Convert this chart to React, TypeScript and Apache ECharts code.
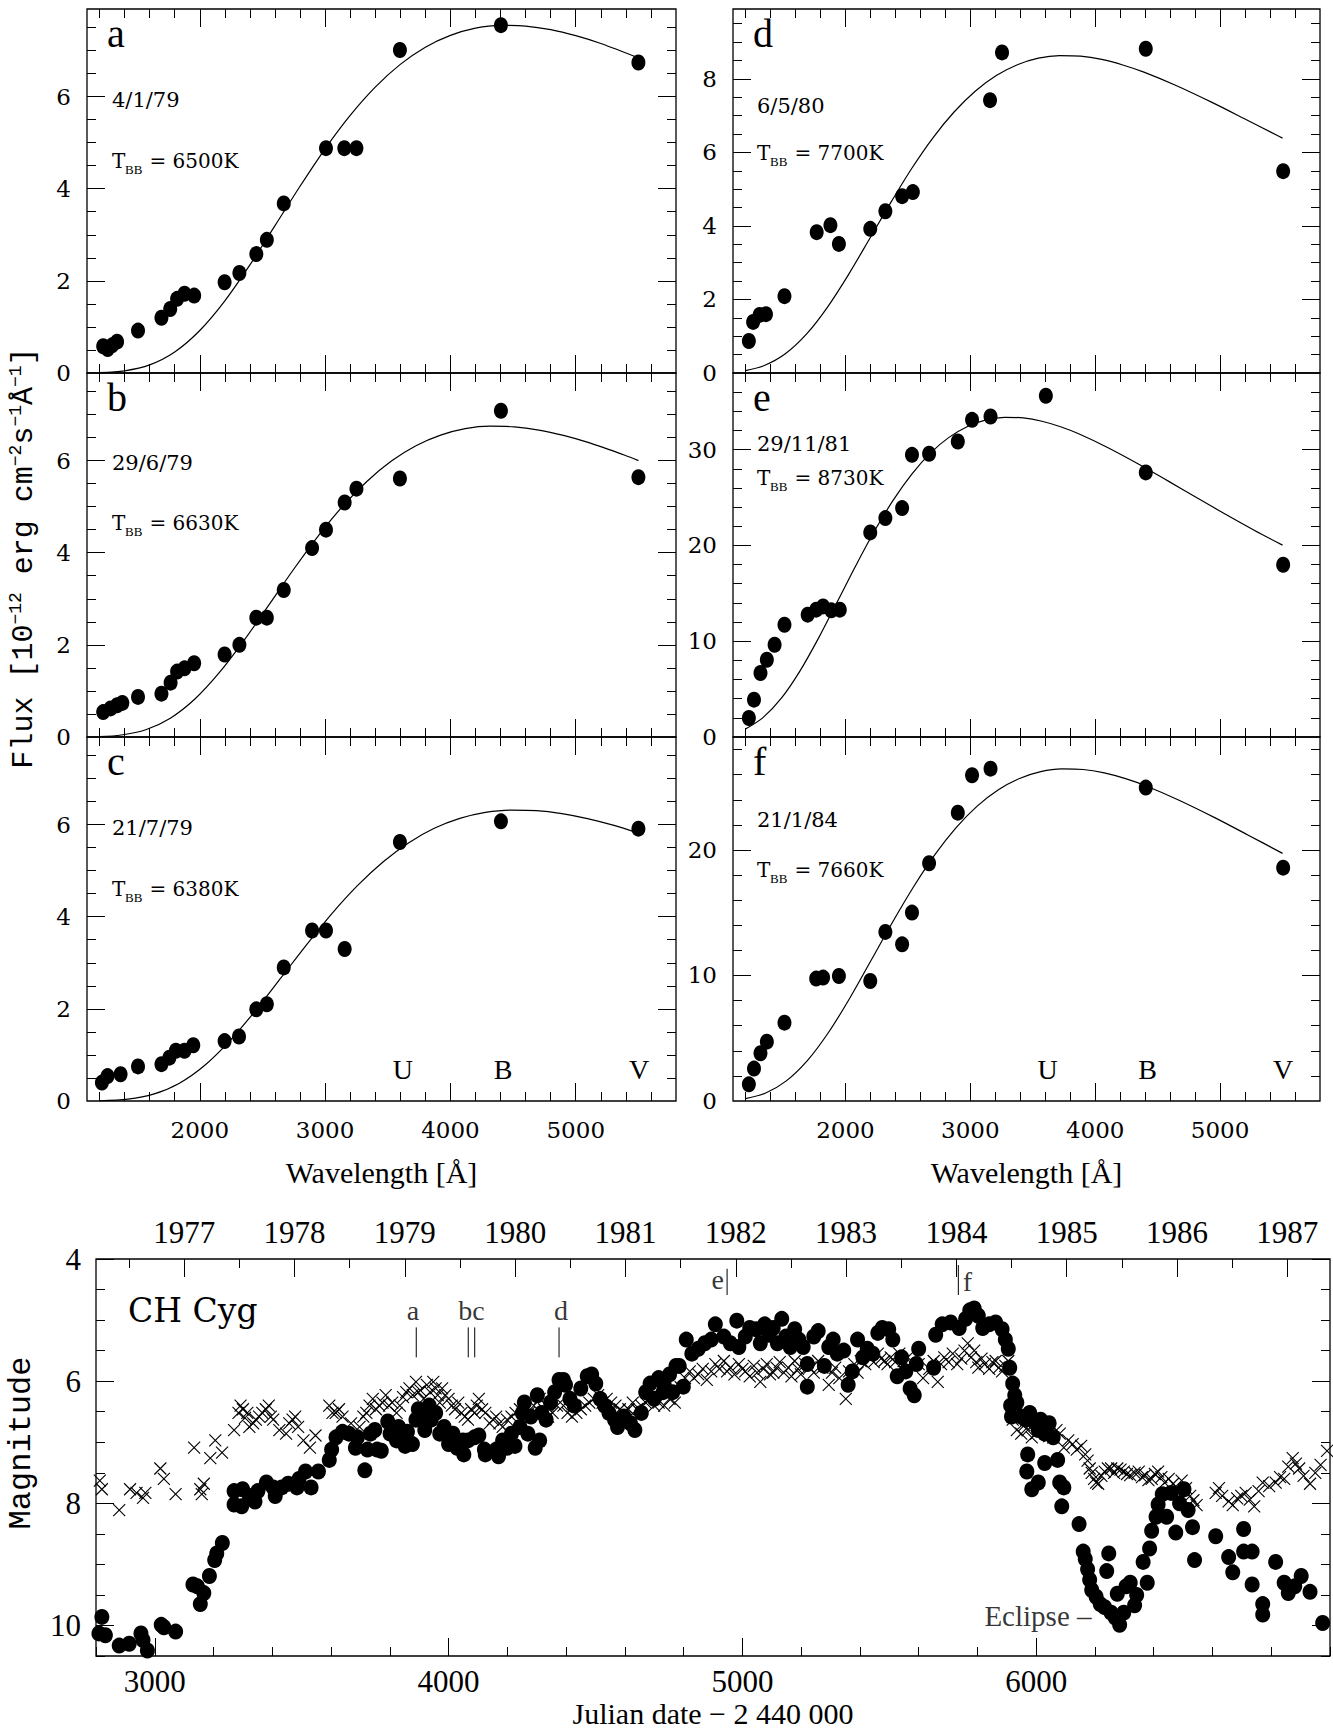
import React, { useEffect, useRef } from 'react';
import * as echarts from 'echarts';

const W = 1333;
const H = 1735;

// ---------------- Spectra: wavelength [Å] and flux [1e-12 erg cm^-2 s^-1 Å^-1] ----------------
const A_WAVE = [1229, 1265, 1300, 1340, 1507, 1694, 1764, 1819, 1878, 1955, 2198, 2316, 2451, 2535, 2670, 3007, 3153, 3250, 3597, 4403, 5500];
const A_FLUX = [0.58, 0.52, 0.6, 0.68, 0.92, 1.2, 1.39, 1.61, 1.72, 1.68, 1.97, 2.17, 2.58, 2.89, 3.68, 4.88, 4.88, 4.88, 7.01, 7.55, 6.74];
const B_WAVE = [1229, 1288, 1340, 1382, 1507, 1694, 1767, 1819, 1878, 1955, 2198, 2316, 2451, 2535, 2670, 2896, 3007, 3156, 3250, 3597, 4403, 5500];
const B_FLUX = [0.54, 0.62, 0.69, 0.74, 0.87, 0.94, 1.18, 1.42, 1.49, 1.6, 1.79, 2.0, 2.59, 2.59, 3.19, 4.1, 4.5, 5.09, 5.39, 5.61, 7.08, 5.64];
const C_WAVE = [1219, 1264, 1368, 1507, 1694, 1757, 1809, 1878, 1948, 2198, 2313, 2451, 2535, 2670, 2896, 3007, 3156, 3597, 4403, 5500];
const C_FLUX = [0.4, 0.54, 0.58, 0.75, 0.8, 0.94, 1.09, 1.09, 1.21, 1.3, 1.4, 1.99, 2.1, 2.9, 3.7, 3.7, 3.3, 5.62, 6.07, 5.91];
const D_WAVE = [1227, 1261, 1313, 1364, 1512, 1770, 1880, 1948, 2199, 2320, 2454, 2540, 3158, 3254, 4405, 5505];
const D_FLUX = [0.87, 1.39, 1.58, 1.6, 2.09, 3.83, 4.02, 3.51, 3.92, 4.4, 4.81, 4.92, 7.42, 8.72, 8.82, 5.49];
const E_WAVE = [1227, 1268, 1320, 1371, 1433, 1512, 1698, 1766, 1821, 1887, 1955, 2199, 2320, 2454, 2533, 2670, 2900, 3014, 3162, 3605, 4405, 5505];
const E_FLUX = [1.98, 3.9, 6.68, 8.07, 9.63, 11.72, 12.77, 13.29, 13.63, 13.22, 13.29, 21.36, 22.85, 23.9, 29.46, 29.57, 30.85, 33.11, 33.46, 35.62, 27.62, 17.98];
const F_WAVE = [1227, 1268, 1320, 1371, 1512, 1766, 1821, 1948, 2199, 2320, 2454, 2533, 2670, 2900, 3014, 3162, 4405, 5505];
const F_FLUX = [1.33, 2.58, 3.8, 4.73, 6.24, 9.75, 9.83, 9.96, 9.56, 13.47, 12.48, 15.01, 18.94, 22.97, 25.95, 26.48, 24.97, 18.59];

// Black-body curves
const A_BB_WAVE = [1200, 1400, 1600, 1800, 2000, 2200, 2400, 2600, 2800, 3000, 3200, 3400, 3600, 3800, 4000, 4200, 4400, 4600, 4800, 5000, 5200, 5500];
const A_BB_FLUX = [0.007, 0.048, 0.177, 0.457, 0.923, 1.567, 2.346, 3.197, 4.054, 4.866, 5.59, 6.204, 6.698, 7.071, 7.327, 7.484, 7.544, 7.53, 7.452, 7.321, 7.151, 6.839];
const B_BB_WAVE = [1200, 1373, 1569, 1765, 1961, 2157, 2353, 2549, 2745, 2941, 3137, 3333, 3529, 3725, 3922, 4118, 4314, 4510, 4706, 4902, 5098, 5392, 5500];
const B_BB_FLUX = [0.008, 0.043, 0.158, 0.409, 0.825, 1.401, 2.097, 2.858, 3.625, 4.35, 4.998, 5.546, 5.989, 6.321, 6.551, 6.691, 6.745, 6.732, 6.662, 6.545, 6.393, 6.114, 5.999];
const C_BB_WAVE = [1200, 1426, 1630, 1834, 2038, 2241, 2445, 2649, 2853, 3056, 3260, 3464, 3668, 3871, 4075, 4279, 4483, 4687, 4890, 5094, 5298, 5500];
const C_BB_FLUX = [0.005, 0.04, 0.148, 0.382, 0.772, 1.312, 1.964, 2.676, 3.394, 4.073, 4.679, 5.193, 5.607, 5.919, 6.134, 6.264, 6.315, 6.304, 6.238, 6.129, 5.986, 5.813];
const D_BB_WAVE = [1200, 1351, 1519, 1688, 1857, 2026, 2195, 2364, 2532, 2701, 2870, 3039, 3208, 3377, 3545, 3714, 3883, 4052, 4221, 4390, 4643, 4935, 5195, 5455, 5500];
const D_BB_FLUX = [0.063, 0.203, 0.523, 1.056, 1.794, 2.684, 3.658, 4.64, 5.568, 6.397, 7.099, 7.665, 8.091, 8.385, 8.564, 8.633, 8.617, 8.528, 8.378, 8.183, 7.826, 7.36, 6.916, 6.465, 6.388];
const E_BB_WAVE = [1200, 1340, 1489, 1638, 1787, 1936, 2085, 2234, 2383, 2532, 2680, 2829, 2978, 3127, 3276, 3425, 3574, 3723, 3872, 4095, 4353, 4582, 4811, 5040, 5269, 5500];
const E_BB_FLUX = [0.828, 2.021, 4.081, 6.934, 10.377, 14.142, 17.936, 21.526, 24.729, 27.445, 29.632, 31.279, 32.415, 33.106, 33.373, 33.313, 32.966, 32.388, 31.633, 30.254, 28.453, 26.737, 24.993, 23.276, 21.613, 20.03];
const F_BB_WAVE = [1200, 1358, 1527, 1697, 1867, 2037, 2206, 2376, 2546, 2715, 2885, 3055, 3225, 3394, 3564, 3734, 3903, 4073, 4243, 4413, 4667, 4961, 5222, 5500];
const F_BB_FLUX = [0.184, 0.621, 1.603, 3.236, 5.497, 8.227, 11.212, 14.22, 17.066, 19.606, 21.759, 23.493, 24.799, 25.699, 26.247, 26.459, 26.411, 26.136, 25.678, 25.079, 23.986, 22.558, 21.197, 19.73];

const PANEL_DATES = ['4/1/79', '29/6/79', '21/7/79', '6/5/80', '29/11/81', '21/1/84'];
const PANEL_TEMPS = ['6500K', '6630K', '6380K', '7700K', '8730K', '7660K'];
const PANEL_LETTERS = ['a', 'b', 'c', 'd', 'e', 'f'];
const BAND_NAMES = ['U', 'B', 'V'];
const BAND_WAVE = [3620, 4420, 5505];

// ---------------- Light curve: JD - 2440000, magnitude ----------------
const LC_DOTS: number[][] = [
  [2810, 10.13], [2820, 9.86], [2832, 10.16], [2879, 10.33], [2913, 10.3], [2953, 10.13], [2960, 10.24], [2975, 10.41], [3022, 9.99], [3031, 10.03], [3071, 10.1],
  [3130, 9.33], [3145, 9.36], [3155, 9.65], [3167, 9.47], [3186, 9.19], [3204, 8.93], [3211, 8.82], [3230, 8.65],
  [3270, 8.02], [3270, 7.8], [3296, 8.05], [3299, 7.77], [3322, 7.88], [3341, 7.97], [3351, 7.8], [3380, 7.66], [3403, 7.74], [3410, 7.88], [3432, 7.74], [3454, 7.68], [3484, 7.74], [3491, 7.6], [3513, 7.48], [3532, 7.74], [3557, 7.48],
  [3594, 7.29], [3602, 7.12], [3617, 6.92], [3639, 6.83], [3661, 6.86], [3683, 7.09], [3690, 6.92], [3715, 7.46], [3724, 7.12], [3734, 6.86], [3749, 6.8], [3757, 7.12], [3771, 7.14], [3793, 6.66], [3801, 6.86], [3823, 6.97], [3830, 6.75], [3852, 7.06], [3860, 6.83], [3877, 7.03],
  [3889, 6.63], [3897, 6.46], [3911, 6.58], [3919, 6.8], [3934, 6.4], [3941, 6.63], [3956, 6.52], [3970, 6.86], [3985, 6.75], [4000, 7.03], [4015, 6.86], [4029, 7.09], [4049, 6.97], [4052, 7.2], [4066, 6.97], [4088, 6.92], [4103, 6.89], [4122, 7.12], [4125, 7.2], [4162, 7.12], [4170, 7.23], [4184, 6.97], [4199, 7.09], [4214, 6.86], [4226, 7.06], [4243, 6.75], [4251, 6.52], [4258, 6.35], [4270, 6.86], [4280, 6.58], [4295, 7.09], [4302, 6.23], [4310, 6.97], [4317, 6.52], [4332, 6.63], [4347, 6.35], [4361, 6.18], [4376, 5.98], [4391, 5.98], [4398, 6.06], [4413, 6.29], [4428, 6.4], [4450, 6.12], [4472, 5.92], [4487, 5.89], [4501, 6.04], [4516, 6.29], [4531, 6.4], [4546, 6.52], [4565, 6.63], [4575, 6.75], [4597, 6.58], [4619, 6.69], [4634, 6.8], [4656, 6.52], [4671, 6.18], [4686, 6.04], [4700, 6.29], [4715, 5.95], [4730, 6.18], [4752, 5.89], [4774, 5.75],
  [4734, 6.06], [4763, 6.18], [4799, 6.09], [4785, 5.75], [4809, 5.32], [4828, 5.55], [4850, 5.47], [4872, 5.38], [4894, 5.32], [4908, 5.07], [4937, 5.27], [4959, 5.38], [4981, 5.01], [4988, 5.44], [5010, 5.27], [5025, 5.13], [5047, 5.15], [5061, 5.38], [5076, 5.07], [5090, 5.24], [5105, 5.13], [5119, 5.38], [5134, 4.98], [5148, 5.27], [5163, 5.44], [5178, 5.15], [5192, 5.32], [5207, 5.44], [5221, 5.72], [5221, 6.09], [5243, 5.27], [5258, 5.18], [5279, 5.75], [5294, 5.44], [5309, 5.32], [5323, 5.55], [5345, 5.5], [5360, 6.06], [5374, 5.84], [5392, 5.32], [5410, 5.61], [5425, 5.47], [5444, 5.55], [5461, 5.21], [5476, 5.13], [5498, 5.15], [5512, 5.32], [5527, 5.92], [5542, 5.61], [5556, 5.84], [5571, 6.12], [5585, 6.23], [5592, 5.72], [5600, 5.47],
  [5651, 5.78], [5658, 5.24], [5680, 5.07], [5709, 5.04], [5738, 5.13], [5760, 4.98], [5774, 4.84], [5789, 4.81], [5803, 4.93], [5818, 5.13], [5840, 5.07], [5862, 5.04], [5884, 5.15], [5895, 5.32], [5905, 5.47], [5910, 5.78], [5920, 6.04], [5927, 6.23], [5913, 6.4], [5916, 6.58], [5934, 6.35], [5949, 6.58], [5964, 6.63], [5978, 6.52], [5993, 6.66], [6007, 6.8], [6015, 6.63], [6029, 6.86], [6044, 6.69], [6058, 6.92],
  [5971, 7.2], [5968, 7.48], [5985, 7.77], [6007, 7.66], [6029, 7.34], [6073, 7.29], [6080, 7.66], [6094, 7.74], [6087, 8.05], [6146, 8.34], [6160, 8.79], [6167, 8.91], [6175, 9.08], [6182, 9.25], [6189, 9.42], [6204, 9.53], [6218, 9.65], [6233, 9.7], [6240, 9.11], [6247, 8.82], [6255, 9.79], [6269, 9.87], [6284, 9.99], [6276, 9.48], [6298, 9.79], [6306, 9.36], [6320, 9.3], [6335, 9.67], [6342, 9.5], [6364, 8.96], [6378, 9.3], [6386, 8.74], [6393, 8.45], [6408, 8.22], [6415, 8.02], [6429, 7.85], [6444, 8.22], [6459, 7.83], [6475, 8.48], [6488, 8.0], [6503, 7.77], [6517, 8.11], [6532, 8.39], [6539, 8.93],
  [6611, 8.54], [6655, 8.88], [6669, 9.13], [6706, 8.42], [6706, 8.79], [6735, 8.79], [6735, 9.33], [6771, 9.65], [6771, 9.82], [6815, 8.96], [6844, 9.3], [6858, 9.47], [6880, 9.36], [6902, 9.19], [6932, 9.45], [6975, 9.96],
];

const LC_CROSSES: number[][] = [
  [2813, 7.63], [2820, 7.77], [2879, 8.11], [2916, 7.77], [2938, 7.83], [2960, 7.91], [2968, 7.83], [3019, 7.43], [3031, 7.6], [3071, 7.85], [3134, 7.09], [3155, 7.77], [3160, 7.85], [3167, 7.68], [3189, 7.26], [3206, 6.97], [3229, 7.17],
  [3270, 6.8], [3285, 6.52], [3292, 6.4], [3300, 6.46], [3307, 6.6], [3315, 6.52], [3322, 6.75], [3335, 6.69], [3344, 6.63], [3355, 6.58], [3366, 6.52], [3378, 6.46], [3388, 6.4], [3395, 6.58], [3403, 6.63], [3424, 6.8], [3447, 6.86], [3458, 6.69], [3469, 6.63], [3478, 6.58], [3488, 6.75], [3506, 6.97], [3528, 7.09], [3547, 6.89],
  [3594, 6.4], [3605, 6.52], [3616, 6.52], [3627, 6.46], [3639, 6.58], [3668, 6.69], [3697, 6.75], [3710, 6.58], [3720, 6.52], [3731, 6.4], [3742, 6.29], [3753, 6.46], [3764, 6.4], [3775, 6.35], [3786, 6.23], [3797, 6.4], [3808, 6.35], [3823, 6.52], [3834, 6.4], [3845, 6.26], [3856, 6.18], [3867, 6.12], [3878, 6.23], [3889, 6.01], [3897, 6.18], [3904, 6.15], [3915, 6.29], [3926, 6.06], [3937, 6.18], [3948, 6.01], [3956, 6.12], [3963, 6.23], [3970, 6.35], [3978, 6.12], [3989, 6.23],
  [4000, 6.29], [4011, 6.4], [4022, 6.46], [4033, 6.35], [4044, 6.52], [4055, 6.58], [4066, 6.63], [4077, 6.46], [4088, 6.52], [4096, 6.4], [4103, 6.29], [4114, 6.46], [4125, 6.52], [4140, 6.69], [4151, 6.63], [4162, 6.58], [4173, 6.69], [4184, 6.75], [4199, 6.63], [4214, 6.58], [4228, 6.52], [4243, 6.46], [4258, 6.58], [4273, 6.52], [4290, 6.4], [4310, 6.29], [4325, 6.46], [4339, 6.58], [4354, 6.52], [4369, 6.4], [4391, 6.4], [4405, 6.52], [4420, 6.58], [4435, 6.52], [4450, 6.46], [4465, 6.4], [4479, 6.35], [4494, 6.29], [4509, 6.23], [4524, 6.35], [4538, 6.29], [4553, 6.35], [4568, 6.4], [4583, 6.46], [4597, 6.52], [4612, 6.46], [4627, 6.35], [4641, 6.46], [4656, 6.4], [4671, 6.35], [4686, 6.29], [4700, 6.4], [4715, 6.35], [4734, 6.4], [4752, 6.29], [4770, 6.35],
  [4790, 6.1], [4805, 5.95], [4821, 5.84], [4835, 5.95], [4850, 5.89], [4865, 5.8], [4879, 5.98], [4894, 5.84], [4908, 5.72], [4922, 5.8], [4937, 5.67], [4948, 5.84], [4959, 5.78], [4973, 5.89], [4988, 5.72], [5000, 5.8], [5010, 5.84], [5025, 5.92], [5039, 5.75], [5050, 5.86], [5061, 6.01], [5072, 5.8], [5083, 5.72], [5094, 5.89], [5105, 5.86], [5116, 5.78], [5127, 5.69], [5141, 5.86], [5156, 5.78], [5167, 5.92], [5178, 5.67], [5189, 5.8], [5199, 5.89], [5214, 5.72], [5229, 5.78], [5243, 5.86], [5258, 5.67], [5272, 5.78], [5294, 6.06], [5305, 5.86], [5316, 5.78], [5330, 5.95], [5352, 6.29], [5363, 5.84], [5381, 5.72], [5392, 5.86], [5403, 5.67], [5418, 5.72], [5432, 5.61], [5447, 5.69], [5461, 5.55], [5472, 5.63], [5483, 5.67], [5494, 5.72], [5505, 5.61], [5520, 5.69], [5534, 5.55], [5549, 5.67], [5563, 5.61], [5578, 5.72], [5600, 5.72], [5615, 5.95], [5636, 5.8], [5651, 5.67], [5665, 6.01], [5676, 5.72], [5687, 5.61], [5702, 5.69], [5716, 5.55], [5731, 5.72], [5745, 5.63], [5756, 5.5], [5767, 5.38], [5778, 5.61], [5789, 5.5], [5796, 5.69], [5803, 5.78], [5814, 5.63], [5825, 5.72], [5840, 5.8], [5851, 5.69], [5862, 5.67], [5873, 5.78], [5884, 5.84], [5895, 5.75], [5905, 5.67],
  [5920, 6.63], [5934, 6.8], [5949, 6.86], [5960, 6.72], [5971, 6.8], [5985, 6.92], [6000, 6.86], [6015, 6.75], [6029, 6.8], [6044, 6.9], [6058, 6.92], [6069, 6.8], [6080, 6.86], [6094, 7.09], [6109, 6.97], [6124, 7.03], [6138, 7.12], [6153, 7.06], [6167, 7.2], [6175, 7.3], [6182, 7.43], [6189, 7.5], [6197, 7.6], [6204, 7.66], [6211, 7.68], [6222, 7.55], [6233, 7.48], [6244, 7.43], [6255, 7.43], [6265, 7.5], [6276, 7.43], [6287, 7.45], [6298, 7.48], [6309, 7.52], [6320, 7.54], [6335, 7.5], [6349, 7.48], [6360, 7.57], [6371, 7.54], [6382, 7.62], [6393, 7.6], [6404, 7.52], [6415, 7.48], [6426, 7.57], [6437, 7.66], [6451, 7.6], [6466, 7.68], [6480, 7.75], [6495, 7.63], [6510, 7.75], [6524, 7.88], [6535, 7.95], [6546, 8.03],
  [6611, 7.83], [6622, 7.75], [6633, 7.88], [6655, 7.97], [6669, 8.03], [6684, 7.92], [6698, 7.88], [6713, 7.83], [6727, 7.94], [6742, 8.05], [6757, 7.8], [6771, 7.66], [6793, 7.72], [6815, 7.66], [6830, 7.57], [6844, 7.6], [6858, 7.4], [6873, 7.26], [6884, 7.35], [6895, 7.43], [6910, 7.55], [6932, 7.68], [6950, 7.5], [6968, 7.37], [6990, 7.14],
];

// Epoch markers of the spectra (JD - 2440000, magnitude span of the tick)
const EPOCH_LINE_JD = [3890, 4067, 4089, 4376, 4948, 5735];
const EPOCH_LINE_TOP = [5.12, 5.12, 5.12, 5.12, 4.16, 4.1];
const EPOCH_LINE_BOTTOM = [5.61, 5.61, 5.61, 5.61, 4.59, 4.59];
const EPOCH_LABELS = ['a', 'bc', 'd', 'e', 'f'];
const EPOCH_LABEL_JD = [3879, 4078, 4383, 4916, 5766];
const EPOCH_LABEL_MAG = [4.84, 4.84, 4.84, 4.33, 4.37];
const ECLIPSE_JD = 6190;
const ECLIPSE_MAG = 9.85;

// Tick values
const range = (a: number, b: number, s: number) => {
  const out: number[] = [];
  for (let v = a; v <= b + 1e-9; v += s) out.push(Math.round(v * 1000) / 1000);
  return out;
};
const WAVE_MIN = 1100;
const WAVE_MAX = 5800;
const WAVE_LABELS = [2000, 3000, 4000, 5000];
const WAVE_MINOR = range(1200, 5600, 200);
const JD_MIN = 2800;
const JD_MAX = 7000;
const JD_LABELS = [3000, 4000, 5000, 6000];
const JD_MINOR = range(2800, 7000, 200);
const YEAR_MIN = 1976.2;
const YEAR_MAX = 1987.387;
const YEAR_LABELS = [1977, 1978, 1979, 1980, 1981, 1982, 1983, 1984, 1985, 1986, 1987];
const YEAR_MINOR = range(1976.5, 1987, 0.5);
const MAG_MIN = 4;
const MAG_MAX = 10.5;
const MAG_LABELS = [4, 6, 8, 10];
const MAG_MINOR = range(4.5, 10.5, 0.5);

const zip = (a: number[], b: number[]) => a.map((v, i) => [v, b[i]]);

const F_NUM = '"DejaVu Serif", serif';
const F_SERIF = '"Liberation Serif", serif';
const F_MONO = '"Liberation Mono", monospace';

// Layout (pixels)
const COL_X = [87, 733];
const COL_W = [589, 587];
const ROW_Y = [9, 373, 737];
const ROW_H = 364;
const MAIN = { left: 96, top: 1259, width: 1234, height: 397 };
const MAJOR_LEN = 18;
const MINOR_LEN = 9;

function buildOption() {
  const grid: any[] = [];
  const xAxis: any[] = [];
  const yAxis: any[] = [];
  const series: any[] = [];
  const graphic: any[] = [];

  const mkAxis = (gridIndex: number, min: number, max: number, position: string, ticks: number[], len: number, label?: any, inverse?: boolean) => ({
    type: 'value',
    gridIndex,
    min,
    max,
    position,
    inverse: !!inverse,
    axisLine: { show: false, onZero: false },
    splitLine: { show: false },
    splitArea: { show: false },
    axisTick: { show: true, inside: true, length: len, customValues: ticks, lineStyle: { color: '#000', width: 1 } },
    axisLabel: label
      ? { show: true, customValues: label.values, formatter: (v: number) => String(v), color: '#000', fontFamily: label.font, fontSize: label.size, margin: label.margin }
      : { show: false },
    axisPointer: { show: false },
  });

  const addGrid = (rect: any) => {
    grid.push({ ...rect, show: true, borderColor: '#000', borderWidth: 1.3, backgroundColor: 'rgba(0,0,0,0)', containLabel: false });
    return grid.length - 1;
  };

  const text = (x: number, y: number, t: string, font: string, size: number, align = 'left', extra: any = {}) => ({
    type: 'text',
    x,
    y,
    silent: true,
    z: 50,
    ...extra,
    style: { text: t, fontFamily: font, fontSize: size, fill: '#000', align, verticalAlign: 'middle', ...(extra.style || {}) },
  });

  const panels = [
    { col: 0, row: 0, ymax: 7.9, yMaj: [2, 4, 6], yLab: [0, 2, 4, 6], yMin: range(0.5, 7.5, 0.5), w: A_WAVE, f: A_FLUX, bw: A_BB_WAVE, bf: A_BB_FLUX, dateDy: 91, tDy: 151.5, xlab: false },
    { col: 0, row: 1, ymax: 7.9, yMaj: [2, 4, 6], yLab: [0, 2, 4, 6], yMin: range(0.5, 7.5, 0.5), w: B_WAVE, f: B_FLUX, bw: B_BB_WAVE, bf: B_BB_FLUX, dateDy: 89.5, tDy: 149.5, xlab: false },
    { col: 0, row: 2, ymax: 7.9, yMaj: [2, 4, 6], yLab: [0, 2, 4, 6], yMin: range(0.5, 7.5, 0.5), w: C_WAVE, f: C_FLUX, bw: C_BB_WAVE, bf: C_BB_FLUX, dateDy: 90.5, tDy: 151.5, xlab: true },
    { col: 1, row: 0, ymax: 9.9, yMaj: [2, 4, 6, 8], yLab: [0, 2, 4, 6, 8], yMin: range(0.5, 9.5, 0.5), w: D_WAVE, f: D_FLUX, bw: D_BB_WAVE, bf: D_BB_FLUX, dateDy: 96.5, tDy: 144, xlab: false },
    { col: 1, row: 1, ymax: 38, yMaj: [10, 20, 30], yLab: [0, 10, 20, 30], yMin: range(2, 36, 2), w: E_WAVE, f: E_FLUX, bw: E_BB_WAVE, bf: E_BB_FLUX, dateDy: 70.5, tDy: 105, xlab: false },
    { col: 1, row: 2, ymax: 29, yMaj: [10, 20], yLab: [0, 10, 20], yMin: range(2, 28, 2), w: F_WAVE, f: F_FLUX, bw: F_BB_WAVE, bf: F_BB_FLUX, dateDy: 82.5, tDy: 132.5, xlab: true },
  ];

  panels.forEach((p, i) => {
    const left = COL_X[p.col];
    const width = COL_W[p.col];
    const top = ROW_Y[p.row];
    const g = addGrid({ left, top, width, height: ROW_H });
    xAxis.push(mkAxis(g, WAVE_MIN, WAVE_MAX, 'bottom', WAVE_LABELS, MAJOR_LEN, p.xlab ? { values: WAVE_LABELS, font: F_NUM, size: 23, margin: 17 } : undefined));
    const xi = xAxis.length - 1;
    xAxis.push(mkAxis(g, WAVE_MIN, WAVE_MAX, 'bottom', WAVE_MINOR, MINOR_LEN));
    xAxis.push(mkAxis(g, WAVE_MIN, WAVE_MAX, 'top', WAVE_LABELS, MAJOR_LEN));
    xAxis.push(mkAxis(g, WAVE_MIN, WAVE_MAX, 'top', WAVE_MINOR, MINOR_LEN));
    yAxis.push(mkAxis(g, 0, p.ymax, 'left', p.yMaj, MAJOR_LEN, { values: p.yLab, font: F_NUM, size: 23, margin: 16 }));
    const yi = yAxis.length - 1;
    yAxis.push(mkAxis(g, 0, p.ymax, 'left', p.yMin, MINOR_LEN));
    yAxis.push(mkAxis(g, 0, p.ymax, 'right', p.yMaj, MAJOR_LEN));
    yAxis.push(mkAxis(g, 0, p.ymax, 'right', p.yMin, MINOR_LEN));

    series.push({
      type: 'line', xAxisIndex: xi, yAxisIndex: yi, data: zip(p.bw, p.bf), showSymbol: false, symbol: 'none',
      smooth: 0.3, lineStyle: { color: '#000', width: 1.2 }, silent: true, z: 2,
    });
    series.push({
      type: 'scatter', xAxisIndex: xi, yAxisIndex: yi, data: zip(p.w, p.f), symbol: 'circle', symbolSize: [14, 16],
      itemStyle: { color: '#000', opacity: 1 }, silent: true, z: 3,
    });

    const tx = left + (p.col === 0 ? 25 : 24);
    graphic.push(text(left + 20, top + 24.5, PANEL_LETTERS[i], F_SERIF, 40));
    graphic.push(text(tx, top + p.dateDy, PANEL_DATES[i], F_NUM, 21));
    graphic.push(text(tx, top + p.tDy, 'T', F_NUM, 20));
    graphic.push(text(tx + 13, top + p.tDy + 8.5, 'BB', F_SERIF, 13));
    graphic.push(text(tx + 37.5, top + p.tDy, '= ' + PANEL_TEMPS[i], F_NUM, 20));
    if (p.xlab) {
      BAND_NAMES.forEach((b, k) => {
        const px = left + ((BAND_WAVE[k] - WAVE_MIN) / (WAVE_MAX - WAVE_MIN)) * width;
        graphic.push(text(px, top + ROW_H - 31.5, b, F_SERIF, 28, 'center'));
      });
      graphic.push(text(left + width / 2, 1172, 'Wavelength [Å]', F_SERIF, 30, 'center'));
    }
  });

  // ---------------- Main light curve ----------------
  const gm = addGrid(MAIN);
  xAxis.push(mkAxis(gm, JD_MIN, JD_MAX, 'bottom', JD_LABELS, MAJOR_LEN, { values: JD_LABELS, font: F_SERIF, size: 31, margin: 10 }));
  const mxi = xAxis.length - 1;
  xAxis.push(mkAxis(gm, JD_MIN, JD_MAX, 'bottom', JD_MINOR, MINOR_LEN));
  xAxis.push(mkAxis(gm, YEAR_MIN, YEAR_MAX, 'top', YEAR_LABELS, MAJOR_LEN, { values: YEAR_LABELS, font: F_SERIF, size: 31, margin: 11 }));
  xAxis.push(mkAxis(gm, YEAR_MIN, YEAR_MAX, 'top', YEAR_MINOR, MINOR_LEN));
  yAxis.push(mkAxis(gm, MAG_MIN, MAG_MAX, 'left', MAG_LABELS, MAJOR_LEN, { values: MAG_LABELS, font: F_SERIF, size: 31, margin: 15 }, true));
  const myi = yAxis.length - 1;
  yAxis.push(mkAxis(gm, MAG_MIN, MAG_MAX, 'left', MAG_MINOR, MINOR_LEN, undefined, true));
  yAxis.push(mkAxis(gm, MAG_MIN, MAG_MAX, 'right', MAG_LABELS, MAJOR_LEN, undefined, true));
  yAxis.push(mkAxis(gm, MAG_MIN, MAG_MAX, 'right', MAG_MINOR, MINOR_LEN, undefined, true));

  series.push({
    type: 'scatter', xAxisIndex: mxi, yAxisIndex: myi, data: LC_DOTS, symbol: 'circle', symbolSize: [15, 16],
    itemStyle: { color: '#000', opacity: 1 }, silent: true, z: 3,
  });
  series.push({
    type: 'scatter', xAxisIndex: mxi, yAxisIndex: myi, data: LC_CROSSES, symbol: 'path://M0,0L10,10M10,0L0,10', symbolSize: [12, 12],
    itemStyle: { color: 'rgba(0,0,0,0)', borderColor: '#000', borderWidth: 1.1, opacity: 1 }, silent: true, z: 4,
  });
  EPOCH_LINE_JD.forEach((jd, k) => {
    series.push({
      type: 'line', xAxisIndex: mxi, yAxisIndex: myi, data: [[jd, EPOCH_LINE_TOP[k]], [jd, EPOCH_LINE_BOTTOM[k]]],
      showSymbol: false, symbol: 'none', lineStyle: { color: '#000', width: 1 }, silent: true, z: 5,
    });
  });
  series.push({
    type: 'scatter', xAxisIndex: mxi, yAxisIndex: myi, symbolSize: 1, itemStyle: { color: 'rgba(0,0,0,0)' }, silent: true, z: 6,
    data: EPOCH_LABELS.map((t, k) => ({ name: t, value: [EPOCH_LABEL_JD[k], EPOCH_LABEL_MAG[k]] })),
    label: { show: true, position: 'inside', formatter: '{b}', color: '#000', fontFamily: F_SERIF, fontSize: 28 },
  });
  series.push({
    type: 'scatter', xAxisIndex: mxi, yAxisIndex: myi, symbolSize: 1, itemStyle: { color: 'rgba(0,0,0,0)' }, silent: true, z: 6,
    data: [{ name: 'Eclipse –', value: [ECLIPSE_JD, ECLIPSE_MAG] }],
    label: { show: true, position: 'left', distance: 0, formatter: '{b}', color: '#000', fontFamily: F_SERIF, fontSize: 29 },
  });

  graphic.push(text(MAIN.left + 32, 1310.5, 'CH Cyg', F_NUM, 33));
  graphic.push(text(713, 1713, 'Julian date − 2 440 000', F_SERIF, 30, 'center'));
  graphic.push(text(21, 1443, 'Magnitude', F_MONO, 32, 'center', { rotation: Math.PI / 2 }));
  graphic.push({
    type: 'text', x: 24, y: 558, rotation: Math.PI / 2, silent: true, z: 50,
    style: {
      text: 'Flux [10{s|−12} erg cm{s|−2}s{s|−1}Å{s|−1}]',
      fontFamily: F_MONO, fontSize: 30, lineHeight: 34, fill: '#000', align: 'center', verticalAlign: 'middle',
      rich: { s: { fontFamily: F_MONO, fontSize: 18, verticalAlign: 'top', lineHeight: 34, fill: '#000' } },
    },
  });

  return { animation: false, backgroundColor: '#fff', grid, xAxis, yAxis, series, graphic };
}

export default function App() {
  const ref = useRef<HTMLDivElement>(null);
  useEffect(() => {
    if (!ref.current) return;
    const chart = echarts.init(ref.current, null, { renderer: 'svg', width: W, height: H });
    chart.setOption(buildOption());
    return () => chart.dispose();
  }, []);
  return <div ref={ref} style={{ position: 'absolute', left: 0, top: 0, width: W, height: H, background: '#fff' }} />;
}
